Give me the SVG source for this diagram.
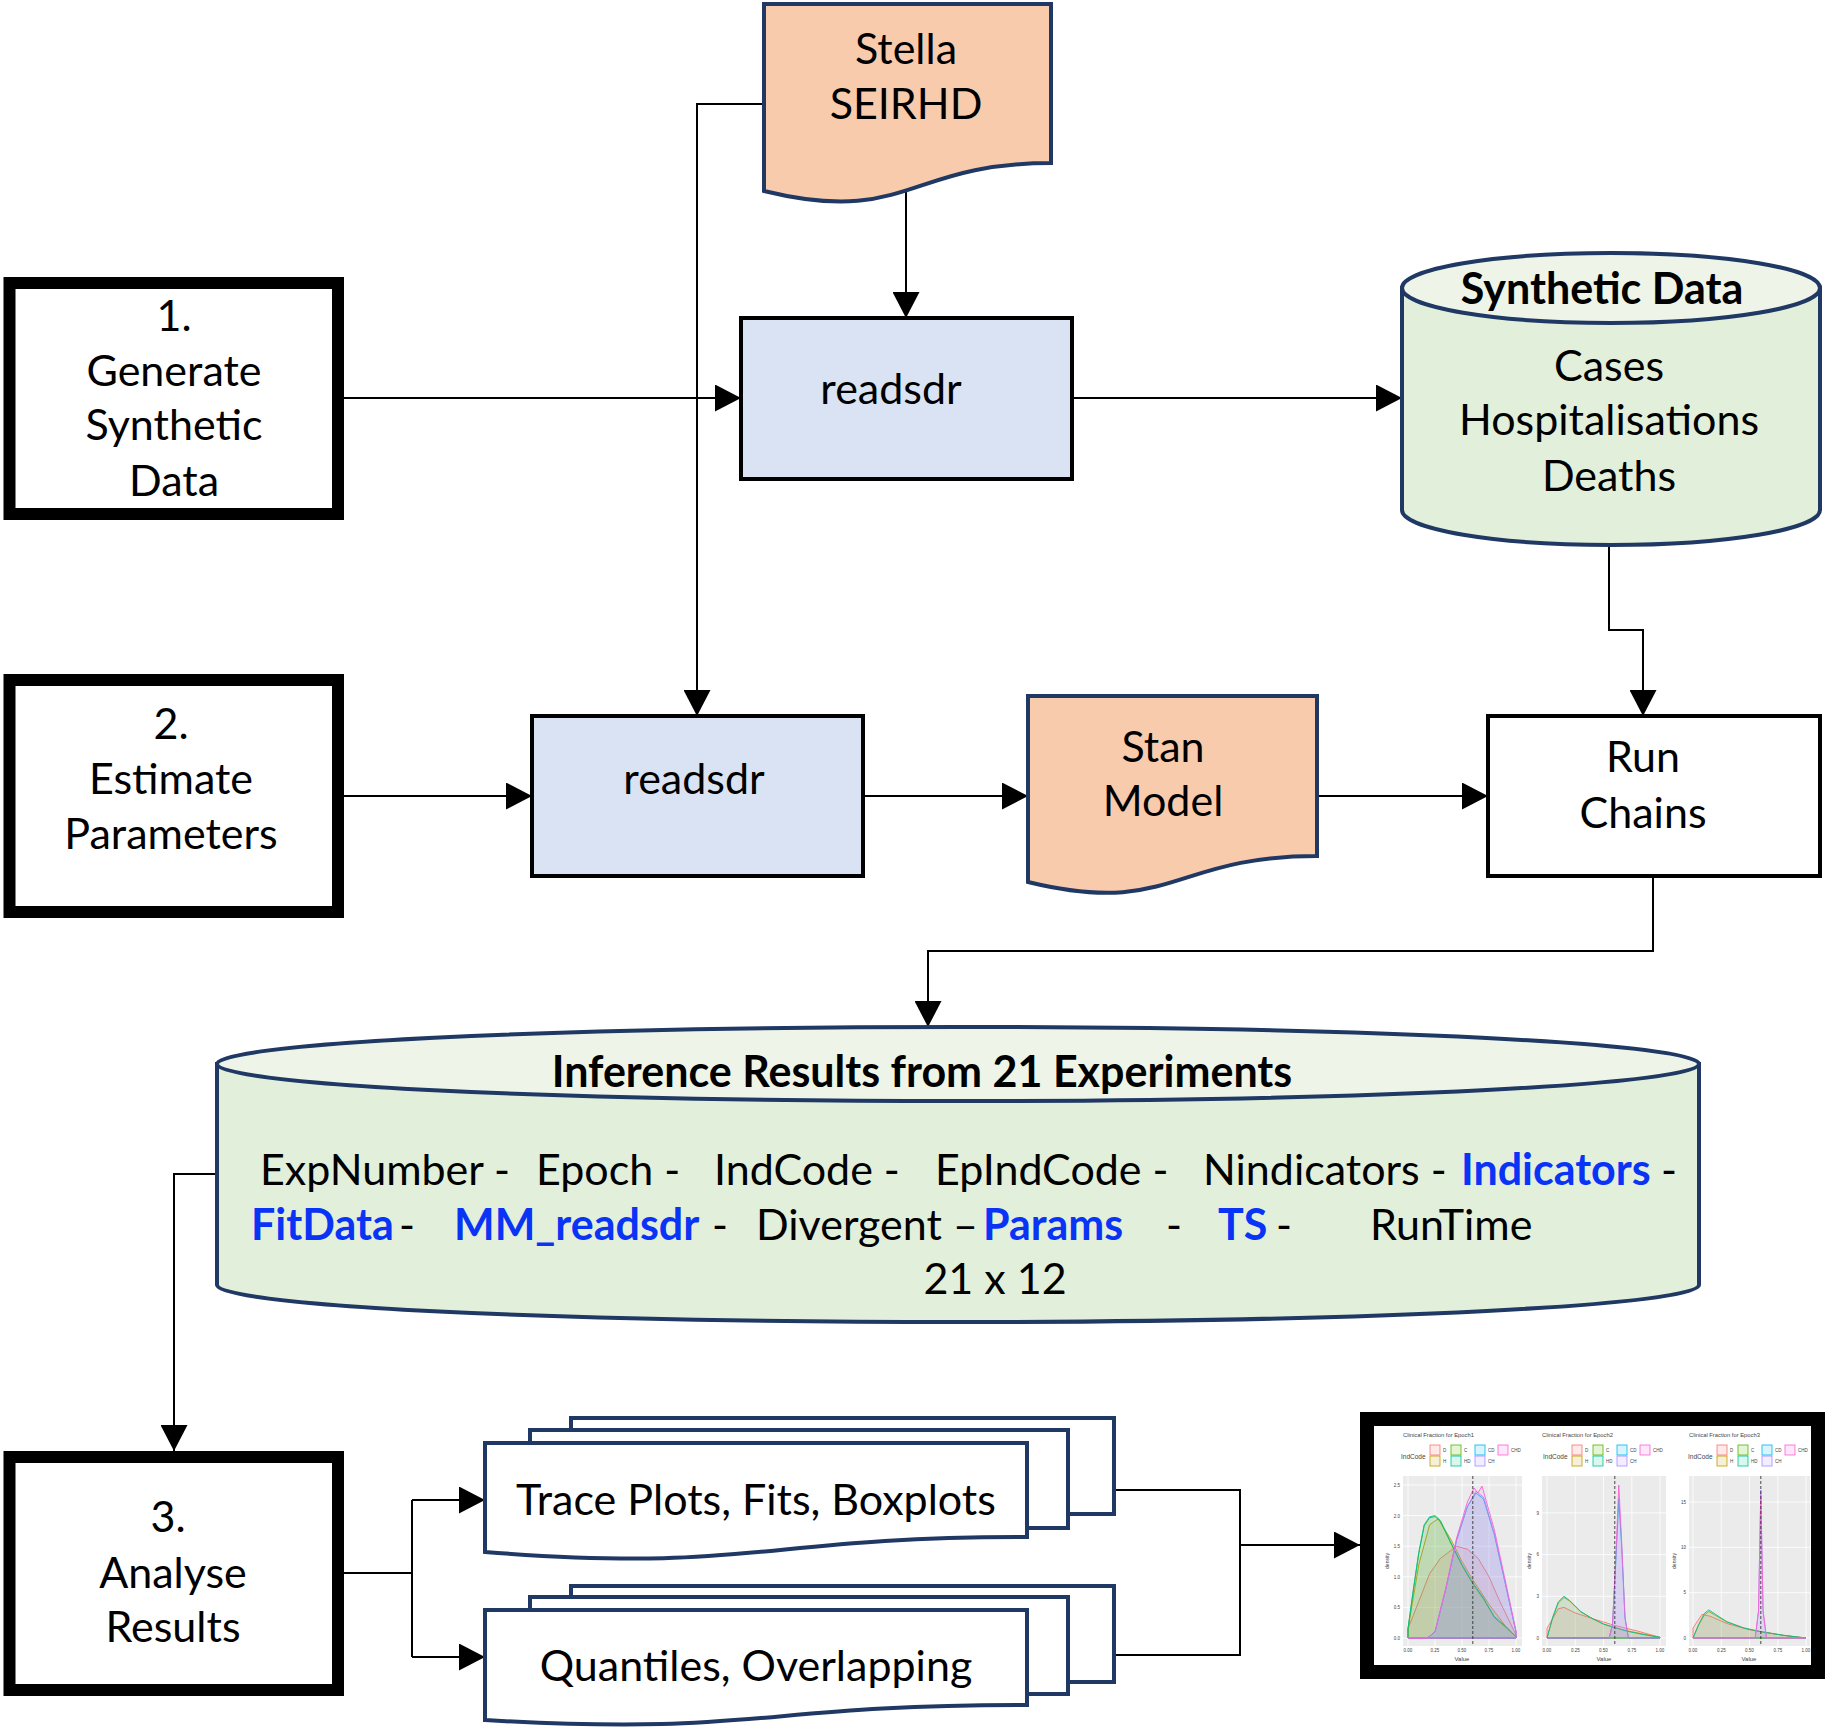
<svg xmlns="http://www.w3.org/2000/svg" width="1847" height="1732" viewBox="0 0 1847 1732">
<style>
.t{font-family:Lato,"Open Sans",sans-serif;font-size:43px;fill:#000}
.c{text-anchor:middle}
.b{font-weight:bold}
.bl{fill:#0A34F5;font-weight:bold}
.box{fill:#fff;stroke:#000;stroke-width:12}
.rd{fill:#DAE3F3;stroke:#000;stroke-width:4}
.run{fill:#fff;stroke:#000;stroke-width:4}
.doc{fill:#F8CBAD;stroke:#1F3864;stroke-width:4}
.mdoc{fill:#fff;stroke:#1F3864;stroke-width:4}
.cylb{fill:#E2EFDA;stroke:#1F3864;stroke-width:4}
.cylt{fill:#EEF5E8;stroke:#1F3864;stroke-width:4}
.conn{fill:none;stroke:#000;stroke-width:2}
.s{font-family:"Liberation Sans",Arial,sans-serif;fill:#444}
.pa{fill:#EBEBEB}
.gr{stroke:#fff;stroke-width:0.8}
.cv{stroke-width:0.9;stroke-linejoin:round}
</style>
<defs>
<marker id="arr" viewBox="0 0 26 27" refX="26" refY="13.5" markerWidth="26" markerHeight="27" markerUnits="userSpaceOnUse" orient="auto">
<path d="M0,0 L26,13.5 L0,27 Z" fill="#000"/>
</marker>
<g id="legend">
<text class="s" x="1401" y="1459" font-size="6.5">IndCode</text>
<rect x="1430" y="1445" width="10" height="10" fill="#F8766D" fill-opacity="0.15" stroke="#F8766D" stroke-width="0.8"/>
<rect x="1451" y="1445" width="10" height="10" fill="#53B400" fill-opacity="0.15" stroke="#53B400" stroke-width="0.8"/>
<rect x="1475" y="1445" width="10" height="10" fill="#00B6EB" fill-opacity="0.15" stroke="#00B6EB" stroke-width="0.8"/>
<rect x="1498" y="1445" width="10" height="10" fill="#FB61D7" fill-opacity="0.15" stroke="#FB61D7" stroke-width="0.8"/>
<rect x="1430" y="1456" width="10" height="10" fill="#C49A00" fill-opacity="0.15" stroke="#C49A00" stroke-width="0.8"/>
<rect x="1451" y="1456" width="10" height="10" fill="#00C094" fill-opacity="0.15" stroke="#00C094" stroke-width="0.8"/>
<rect x="1475" y="1456" width="10" height="10" fill="#A58AFF" fill-opacity="0.15" stroke="#A58AFF" stroke-width="0.8"/>
<text class="s" x="1443" y="1452" font-size="4.5">D</text>
<text class="s" x="1464" y="1452" font-size="4.5">C</text>
<text class="s" x="1488" y="1452" font-size="4.5">CD</text>
<text class="s" x="1511" y="1452" font-size="4.5">CHD</text>
<text class="s" x="1443" y="1463" font-size="4.5">H</text>
<text class="s" x="1464" y="1463" font-size="4.5">HD</text>
<text class="s" x="1488" y="1463" font-size="4.5">CH</text>
</g>
</defs>
<rect width="1847" height="1732" fill="#fff"/>

<g id="connectors">
<path class="conn" d="M906,191 V318" marker-end="url(#arr)"/>
<path class="conn" d="M763,104 H697 V716" marker-end="url(#arr)"/>
<path class="conn" d="M344,398 H741" marker-end="url(#arr)"/>
<path class="conn" d="M1072,398 H1402" marker-end="url(#arr)"/>
<path class="conn" d="M1609,545 V630 H1643 V716" marker-end="url(#arr)"/>
<path class="conn" d="M344,796 H532" marker-end="url(#arr)"/>
<path class="conn" d="M863,796 H1028" marker-end="url(#arr)"/>
<path class="conn" d="M1317,796 H1488" marker-end="url(#arr)"/>
<path class="conn" d="M1653,876 V951 H928 V1027" marker-end="url(#arr)"/>
<path class="conn" d="M217,1174 H174 V1451" marker-end="url(#arr)"/>
<path class="conn" d="M344,1573 H412"/>
<path class="conn" d="M412,1500 V1657"/>
<path class="conn" d="M412,1500 H485" marker-end="url(#arr)"/>
<path class="conn" d="M412,1657 H485" marker-end="url(#arr)"/>
<path class="conn" d="M1114,1490 H1240 V1655 H1114"/>
<path class="conn" d="M1240,1545 H1360" marker-end="url(#arr)"/>
</g>

<g id="node-stella">
<path class="doc" d="M764,4 H1051 V163 C907,163 907,226 764,191 Z"/>
<text class="t c" x="906" y="64">Stella</text>
<text class="t c" x="906" y="119">SEIRHD</text>
</g>

<g id="node-generate">
<rect class="box" x="9.5" y="283" width="328.5" height="231"/>
<text class="t c" x="174" y="331">1.</text>
<text class="t c" x="174" y="386">Generate</text>
<text class="t c" x="174" y="440">Synthetic</text>
<text class="t c" x="174" y="496">Data</text>
</g>

<g id="node-readsdr1">
<rect class="rd" x="741" y="318" width="331" height="161"/>
<text class="t c" x="891" y="404">readsdr</text>
</g>

<g id="node-synthetic">
<path class="cylb" d="M1402,288 V510 A209,35 0 0 0 1820,510 V288 Z"/>
<ellipse class="cylt" cx="1611" cy="288" rx="209" ry="35"/>
<text class="t c b" x="1602" y="304">Synthetic Data</text>
<text class="t c" x="1609" y="381">Cases</text>
<text class="t c" x="1609" y="435">Hospitalisations</text>
<text class="t c" x="1609" y="491">Deaths</text>
</g>

<g id="node-estimate">
<rect class="box" x="9.5" y="680" width="328.5" height="232"/>
<text class="t c" x="171" y="739">2.</text>
<text class="t c" x="171" y="794">Estimate</text>
<text class="t c" x="171" y="849">Parameters</text>
</g>

<g id="node-readsdr2">
<rect class="rd" x="532" y="716" width="331" height="160"/>
<text class="t c" x="694" y="794">readsdr</text>
</g>

<g id="node-stan">
<path class="doc" d="M1028,696 H1317 V856 C1172,856 1172,917 1028,882 Z"/>
<text class="t c" x="1163" y="762">Stan</text>
<text class="t c" x="1163" y="816">Model</text>
</g>

<g id="node-runchains">
<rect class="run" x="1488" y="716" width="332" height="160"/>
<text class="t c" x="1643" y="772">Run</text>
<text class="t c" x="1643" y="828">Chains</text>
</g>

<g id="node-inference">
<path class="cylb" d="M217,1064 V1285 A741,37 0 0 0 1699,1285 V1064 Z"/>
<ellipse class="cylt" cx="958" cy="1064" rx="741" ry="37"/>
<text class="t c b" x="922" y="1087">Inference Results from 21 Experiments</text>
<text class="t" x="260" y="1185">ExpNumber -</text>
<text class="t" x="536" y="1185">Epoch -</text>
<text class="t" x="714" y="1185">IndCode -</text>
<text class="t" x="935" y="1185">EpIndCode -</text>
<text class="t" x="1203" y="1185">Nindicators -</text>
<text class="t bl" x="1461" y="1185">Indicators</text>
<text class="t" x="1661" y="1185">-</text>
<text class="t bl" x="251" y="1240">FitData</text>
<text class="t" x="399" y="1240">-</text>
<text class="t bl" x="454" y="1240">MM_readsdr</text>
<text class="t" x="712" y="1240">-</text>
<text class="t" x="756" y="1240">Divergent</text>
<text class="t" x="953" y="1240">–</text>
<text class="t bl" x="983" y="1240">Params</text>
<text class="t" x="1166" y="1240">-</text>
<text class="t bl" x="1218" y="1240">TS</text>
<text class="t" x="1276" y="1240">-</text>
<text class="t" x="1370" y="1240">RunTime</text>
<text class="t c" x="995" y="1294">21 x 12</text>
</g>

<g id="node-analyse">
<rect class="box" x="9.5" y="1457" width="328.5" height="233"/>
<text class="t c" x="168" y="1532">3.</text>
<text class="t c" x="173" y="1588">Analyse</text>
<text class="t c" x="173" y="1642">Results</text>
</g>

<g id="node-trace">
<rect class="mdoc" x="571" y="1418" width="543" height="96"/>
<rect class="mdoc" x="530" y="1430" width="538" height="98"/>
<path class="mdoc" d="M485,1443 H1027 V1537 C756,1537 756,1573 485,1552 Z"/>
<text class="t c" x="756" y="1515">Trace Plots, Fits, Boxplots</text>
</g>

<g id="node-quantiles">
<rect class="mdoc" x="571" y="1586" width="543" height="96"/>
<rect class="mdoc" x="530" y="1597" width="538" height="97"/>
<path class="mdoc" d="M485,1610 H1027 V1705 C756,1705 756,1736 485,1720 Z"/>
<text class="t c" x="756" y="1681">Quantiles, Overlapping</text>
</g>

<g id="node-plots">
<rect x="1367" y="1419" width="451" height="253" fill="#fff" stroke="#000" stroke-width="14"/>
<!-- panel 1 -->
<text class="s" x="1403" y="1437" font-size="5.8">Clinical Fraction for Epoch1</text>
<use href="#legend"/>
<rect class="pa" x="1403" y="1476" width="119" height="170"/>
<g class="gr">
<path d="M1408,1476V1646M1435,1476V1646M1462,1476V1646M1489,1476V1646M1516,1476V1646M1403,1638H1522M1403,1607.4H1522M1403,1576.8H1522M1403,1546.2H1522M1403,1515.6H1522M1403,1485H1522"/>
</g>
<path class="cv" fill="#F8766D" fill-opacity="0.12" stroke="#F8766D" d="M1408,1628.8 L1418.8,1601.3 L1429.6,1573.7 L1440.4,1558.4 L1456.6,1546.2 L1467.4,1549.3 L1478.2,1558.4 L1489,1576.8 L1499.8,1601.3 L1516,1635 L1516,1638 L1408,1638 Z"/>
<path class="cv" fill="#C49A00" fill-opacity="0.12" stroke="#C49A00" d="M1408,1629 L1418.8,1564.6 L1429.6,1524.8 L1438.2,1518.7 L1451.2,1540 L1462,1561.5 L1472.8,1579.9 L1489,1604.3 L1505.2,1625.8 L1516,1636.8 L1516,1638 L1408,1638 Z"/>
<path class="cv" fill="#53B400" fill-opacity="0.1" stroke="#53B400" d="M1408,1628.8 L1413.4,1590 L1418.8,1553.3 L1424.2,1525.8 L1429.6,1517.8 L1435,1516.6 L1440.4,1521.5 L1451.2,1544.1 L1462,1565.6 L1472.8,1583.9 L1483.6,1599.2 L1494.4,1617.6 L1505.2,1626.8 L1516,1636.8 L1516,1638 L1408,1638 Z"/>
<path class="cv" fill="#00C094" fill-opacity="0.1" stroke="#00C094" d="M1408,1628.8 L1413.4,1589 L1418.8,1552.3 L1424.2,1524.8 L1429.6,1516.8 L1435,1515.6 L1440.4,1520.5 L1451.2,1543.1 L1462,1564.6 L1472.8,1582.9 L1483.6,1598.2 L1494.4,1616.6 L1505.2,1625.8 L1516,1636.8 L1516,1638 L1408,1638 Z"/>
<path class="cv" fill="#00B6EB" fill-opacity="0.12" stroke="#00B6EB" d="M1408,1638 L1427.4,1638 L1435,1631.9 L1445.8,1589 L1456.6,1540.1 L1467.4,1506.4 L1476,1493 L1483.6,1499 L1494.4,1535 L1505.2,1583 L1516,1632 L1516,1638 Z"/>
<path class="cv" fill="#A58AFF" fill-opacity="0.12" stroke="#A58AFF" d="M1408,1638 L1427.4,1638 L1435,1631.9 L1445.8,1589 L1456.6,1540.1 L1467.4,1506.4 L1476,1491.1 L1483.6,1497.2 L1494.4,1534 L1505.2,1582.9 L1516,1631.9 L1516,1638 Z"/>
<path class="cv" fill="#FB61D7" fill-opacity="0.1" stroke="#FB61D7" d="M1408,1638 L1427.4,1638 L1435,1631.5 L1445.8,1588 L1456.6,1538 L1467.4,1502 L1474,1488 L1478,1493 L1482,1486 L1494.4,1530 L1505.2,1580 L1516,1631 L1516,1638 Z"/>
<line x1="1472.8" y1="1476" x2="1472.8" y2="1646" stroke="#333" stroke-width="0.9" stroke-dasharray="3,2"/>
<g class="s" font-size="4.5" text-anchor="end">
<text x="1400" y="1487">2.5</text><text x="1400" y="1518">2.0</text><text x="1400" y="1548">1.5</text><text x="1400" y="1579">1.0</text><text x="1400" y="1609">0.5</text><text x="1400" y="1640">0.0</text>
</g>
<g class="s" font-size="4.5" text-anchor="middle">
<text x="1408" y="1652">0.00</text><text x="1435" y="1652">0.25</text><text x="1462" y="1652">0.50</text><text x="1489" y="1652">0.75</text><text x="1516" y="1652">1.00</text>
</g>
<text class="s" x="1462" y="1661" font-size="6" text-anchor="middle">Value</text>
<text class="s" font-size="5" text-anchor="middle" transform="translate(1389,1561) rotate(-90)">density</text>

<!-- panel 2 -->
<text class="s" x="1542" y="1437" font-size="5.8">Clinical Fraction for Epoch2</text>
<use href="#legend" x="142"/>
<rect class="pa" x="1542" y="1476" width="124" height="170"/>
<g class="gr">
<path d="M1547,1476V1646M1575.3,1476V1646M1603.5,1476V1646M1631.8,1476V1646M1660,1476V1646M1542,1638H1666M1542,1596.3H1666M1542,1554.6H1666M1542,1512.9H1666"/>
</g>
<path class="cv" fill="#F8766D" fill-opacity="0.12" stroke="#F8766D" d="M1547,1628.3 L1558.3,1608.8 L1564,1607.4 L1575.3,1613 L1592.2,1618.5 L1614.8,1625.5 L1637.4,1631 L1660,1637.3 L1660,1638 L1547,1638 Z"/>
<path class="cv" fill="#C49A00" fill-opacity="0.1" stroke="#C49A00" d="M1547,1638 L1552.7,1618 L1558.3,1603 L1564,1597.5 L1569.6,1601 L1580.9,1612 L1592.2,1618.5 L1603.5,1624 L1614.8,1627.6 L1626.1,1630.5 L1643,1634 L1660,1637.3 L1660,1638 Z"/>
<path class="cv" fill="#00C094" fill-opacity="0.1" stroke="#00C094" d="M1547,1638 L1552.7,1617.2 L1558.3,1601.9 L1564,1596.3 L1569.6,1600.5 L1580.9,1611.6 L1592.2,1618.5 L1603.5,1624.1 L1614.8,1627.6 L1626.1,1631 L1643,1634.5 L1660,1637.3 L1660,1638 Z"/>
<path class="cv" fill="#A58AFF" fill-opacity="0.15" stroke="#00B6EB" d="M1547,1638 L1609.2,1638 L1612.5,1625 L1615.9,1560 L1618.8,1499 L1621.6,1545 L1625,1618 L1628.4,1638 L1660,1638"/>
<path class="cv" fill="#A58AFF" fill-opacity="0.15" stroke="#FB61D7" d="M1547,1638 L1609.2,1638 L1612.5,1624.1 L1615.9,1554.6 L1618.8,1485.1 L1621.6,1540.7 L1625,1617.2 L1628.4,1638 L1660,1638"/>
<line x1="1614.8" y1="1476" x2="1614.8" y2="1646" stroke="#333" stroke-width="0.9" stroke-dasharray="3,2"/>
<g class="s" font-size="4.5" text-anchor="end">
<text x="1539" y="1515">9</text><text x="1539" y="1556">6</text><text x="1539" y="1598">3</text><text x="1539" y="1640">0</text>
</g>
<g class="s" font-size="4.5" text-anchor="middle">
<text x="1547" y="1652">0.00</text><text x="1575.3" y="1652">0.25</text><text x="1603.5" y="1652">0.50</text><text x="1631.8" y="1652">0.75</text><text x="1660" y="1652">1.00</text>
</g>
<text class="s" x="1604" y="1661" font-size="6" text-anchor="middle">Value</text>
<text class="s" font-size="5" text-anchor="middle" transform="translate(1531,1561) rotate(-90)">density</text>

<!-- panel 3 -->
<text class="s" x="1689" y="1437" font-size="5.8">Clinical Fraction for Epoch3</text>
<use href="#legend" x="287"/>
<rect class="pa" x="1689" y="1476" width="121" height="170"/>
<g class="gr">
<path d="M1693,1476V1646M1721.3,1476V1646M1749.5,1476V1646M1777.8,1476V1646M1806,1476V1646M1689,1638H1810M1689,1592.7H1810M1689,1547.3H1810M1689,1502H1810"/>
</g>
<path class="cv" fill="#F8766D" fill-opacity="0.12" stroke="#F8766D" d="M1693,1628 L1702,1614.4 L1710,1616.2 L1726.9,1623.5 L1749.5,1629.8 L1783.4,1635.3 L1806,1638 L1693,1638 Z"/>
<path class="cv" fill="#C49A00" fill-opacity="0.1" stroke="#C49A00" d="M1693,1638 L1698.7,1625 L1704.3,1615 L1708.8,1611.5 L1715.6,1615.5 L1726.9,1622 L1743.9,1628 L1760.8,1631.7 L1783.4,1635.3 L1806,1638 Z"/>
<path class="cv" fill="#00C094" fill-opacity="0.1" stroke="#00C094" d="M1693,1638 L1698.7,1624.4 L1704.3,1613.5 L1708.8,1609.9 L1715.6,1614.4 L1726.9,1621.7 L1743.9,1628 L1760.8,1631.7 L1783.4,1635.3 L1806,1638 Z"/>
<path class="cv" fill="#A58AFF" fill-opacity="0.2" stroke="#A58AFF" d="M1693,1638 L1755.2,1638 L1758.5,1612 L1760.8,1490 L1763.1,1612 L1766.5,1638 L1806,1638"/>
<path class="cv" fill="none" stroke="#FB61D7" d="M1693,1638 L1755.2,1638 L1758.5,1610.8 L1760.8,1495 L1763.1,1610.8 L1766.5,1638 L1806,1638"/>
<line x1="1760.8" y1="1476" x2="1760.8" y2="1646" stroke="#333" stroke-width="0.9" stroke-dasharray="3,2"/>
<g class="s" font-size="4.5" text-anchor="end">
<text x="1686" y="1504">15</text><text x="1686" y="1549">10</text><text x="1686" y="1594">5</text><text x="1686" y="1640">0</text>
</g>
<g class="s" font-size="4.5" text-anchor="middle">
<text x="1693" y="1652">0.00</text><text x="1721.3" y="1652">0.25</text><text x="1749.5" y="1652">0.50</text><text x="1777.8" y="1652">0.75</text><text x="1806" y="1652">1.00</text>
</g>
<text class="s" x="1749" y="1661" font-size="6" text-anchor="middle">Value</text>
<text class="s" font-size="5" text-anchor="middle" transform="translate(1676,1561) rotate(-90)">density</text>
</g>
</svg>
